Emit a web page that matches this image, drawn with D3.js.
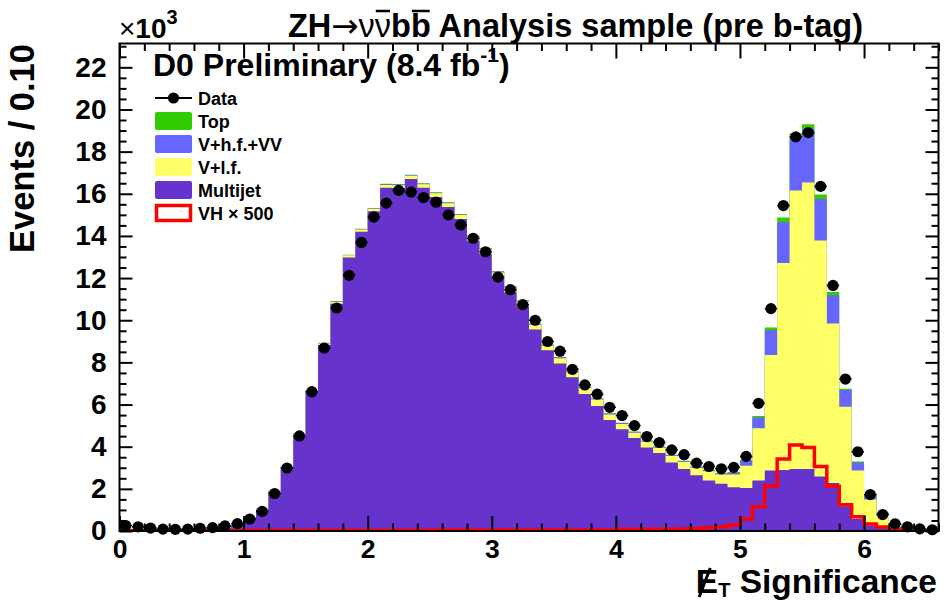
<!DOCTYPE html>
<html><head><meta charset="utf-8">
<script src="https://cdn.jsdelivr.net/npm/d3@7"></script>
<style>
body{margin:0;background:#fff}
svg{display:block}
text{font-family:"Liberation Sans",Arial,Helvetica,sans-serif;font-weight:bold;fill:#000}
</style>
</head><body>
<svg id="c" width="952" height="602"></svg>
<script>
// ---- data (values in units of 10^3 events per 0.10 bin) ----
const binLow = [0.0,0.1,0.2,0.3,0.4,0.5,0.6,0.7,0.8,0.9,1.0,1.1,1.2,1.3,1.4,1.5,1.6,1.7,1.8,1.9,
  2.0,2.1,2.2,2.3,2.4,2.5,2.6,2.7,2.8,2.9,3.0,3.1,3.2,3.3,3.4,3.5,3.6,3.7,3.8,3.9,
  4.0,4.1,4.2,4.3,4.4,4.5,4.6,4.7,4.8,4.9,5.0,5.1,5.2,5.3,5.4,5.5,5.6,5.7,5.8,5.9,
  6.0,6.1,6.2,6.3,6.4,6.5];
const dataVals = [0.26,0.20,0.14,0.09,0.08,0.09,0.13,0.16,0.24,0.35,0.57,0.93,1.78,2.99,4.51,6.61,8.68,10.58,12.13,13.69,
  14.90,15.56,16.16,16.08,15.82,15.60,15.00,14.52,13.89,13.25,12.05,11.45,10.74,10.00,8.99,8.53,7.67,6.93,6.49,5.87,
  5.48,5.00,4.48,4.20,3.85,3.62,3.22,3.06,2.95,3.02,3.54,6.06,10.55,15.44,18.70,18.90,16.35,11.65,7.21,3.76,
  1.73,0.78,0.34,0.20,0.10,0.06];
const multijet = [0.10,0.08,0.06,0.05,0.05,0.06,0.08,0.10,0.15,0.29,0.62,1.01,1.86,3.04,4.57,6.61,8.82,10.78,12.98,14.20,
  15.17,16.29,16.27,16.70,16.29,15.85,15.37,14.80,13.77,13.16,12.05,11.32,10.66,9.56,8.58,7.95,7.29,6.50,5.93,5.27,
  4.83,4.41,3.96,3.70,3.25,2.94,2.64,2.40,2.24,2.08,2.04,2.40,2.87,2.90,2.94,2.94,2.59,2.28,1.17,0.58,
  0.26,0.15,0.08,0.04,0.02,0.01];
const vlf = [0.01,0.01,0.01,0.01,0.01,0.01,0.01,0.01,0.01,0.01,0.02,0.03,0.04,0.05,0.06,0.07,0.08,0.09,0.10,0.11,
  0.12,0.13,0.14,0.15,0.16,0.17,0.18,0.19,0.20,0.21,0.22,0.23,0.23,0.22,0.21,0.25,0.24,0.29,0.31,0.26,
  0.25,0.25,0.27,0.25,0.31,0.33,0.35,0.43,0.44,0.60,1.05,2.48,5.48,9.81,13.21,13.60,11.19,7.56,4.73,2.29,
  1.23,0.63,0.22,0.06,0.03,0.02];
const vhfvv = [0,0,0,0,0,0,0,0,0,0,0.01,0.01,0.01,0.01,0.01,0.01,0.02,0.02,0.02,0.02,
  0.02,0.03,0.03,0.03,0.03,0.03,0.03,0.03,0.03,0.03,0.04,0.04,0.04,0.04,0.04,0.04,0.04,0.04,0.04,0.04,
  0.04,0.04,0.04,0.04,0.04,0.04,0.04,0.04,0.04,0.08,0.23,0.50,1.18,1.94,2.49,2.52,1.97,1.34,0.79,0.38,
  0.24,0.07,0.03,0.02,0.01,0];
const topq = [0,0,0,0,0,0,0,0,0,0,0,0,0,0,0,0,0.01,0.01,0.01,0.01,
  0.01,0.02,0.02,0.02,0.02,0.02,0.02,0.02,0.02,0.02,0.02,0.02,0.02,0.02,0.02,0.02,0.02,0.02,0.02,0.02,
  0.02,0.02,0.02,0.02,0.02,0.02,0.02,0.02,0.02,0.04,0.05,0.08,0.12,0.23,0.23,0.24,0.21,0.16,0.06,0.05,
  0.03,0.02,0.01,0,0,0];
const vhx500 = [0.01,0.01,0.01,0.01,0.01,0.01,0.01,0.01,0.01,0.01,0.03,0.03,0.03,0.03,0.03,0.03,0.03,0.03,0.03,0.03,
  0.03,0.03,0.03,0.03,0.03,0.05,0.05,0.05,0.05,0.05,0.05,0.05,0.05,0.05,0.05,0.05,0.05,0.05,0.05,0.05,
  0.08,0.08,0.08,0.08,0.08,0.10,0.12,0.15,0.20,0.28,0.57,1.15,2.15,3.42,4.08,3.96,3.06,2.12,1.25,0.68,
  0.33,0.19,0.09,0.05,0.02,0.01];
const xMajorTicks = [0,1,2,3,4,5,6];
const yMajorTicks = [0,2,4,6,8,10,12,14,16,18,20,22];
const legendLabels = ["Data","Top","V+h.f.+VV","V+l.f.","Multijet","VH \u00d7 500"];

// ---- layout ----
const L=119.5,R=938.5,T=43.5,B=531;
const binW = 0.1;
const x = d3.scaleLinear().domain([0,6.6]).range([L,R]);
const y = d3.scaleLinear().domain([0,23.13]).range([B,T]);
const svg = d3.select('#c');

svg.append('defs').append('clipPath').attr('id','clip')
  .append('rect').attr('x',L).attr('y',T).attr('width',R-L).attr('height',B-T);
const plot = svg.append('g').attr('clip-path','url(#clip)');

// stacked histogram
const table = binLow.map((b,i)=>({multijet:multijet[i], vlf:vlf[i], vhf:vhfvv[i], top:topq[i]}));
const keys = ['multijet','vlf','vhf','top'];
const colors = {multijet:'#6633cc', vlf:'#ffff66', vhf:'#6666ff', top:'#33cc00'};
const series = d3.stack().keys(keys)(table);
const area = d3.area().curve(d3.curveStepAfter).x(d=>x(d.x)).y0(y(0)).y1(d=>y(d.v));
series.slice().reverse().forEach(s=>{
  const pts = s.map((d,i)=>({x:binLow[i], v:d[1]}));
  pts.push({x:binLow[binLow.length-1]+binW, v:s[s.length-1][1]});
  plot.append('path').attr('d', area(pts)).attr('fill', colors[s.key]);
});

// VH x 500 outline
const line = d3.line().curve(d3.curveStepAfter).x(d=>x(d.x)).y(d=>y(d.v));
const sig = binLow.map((b,i)=>({x:b, v:vhx500[i]}));
sig.push({x:binLow[binLow.length-1]+binW, v:vhx500[vhx500.length-1]});
plot.append('path').attr('d', line(sig)).attr('fill','none').attr('stroke','#ff0000').attr('stroke-width',3.5);

// data points
const dg = svg.append('g');
binLow.forEach((b,i)=>{
  dg.append('line').attr('x1',x(b)).attr('x2',x(b+binW)).attr('y1',y(dataVals[i])).attr('y2',y(dataVals[i]))
    .attr('stroke','#000').attr('stroke-width',1.5);
});
dg.selectAll('circle').data(binLow).join('circle')
  .attr('cx',(b)=>x(b+binW/2)).attr('cy',(b,i)=>y(dataVals[i])).attr('r',5.6).attr('fill','#000');

// axes
const xMinor = d3.range(0,6.61,0.2).filter(v=>Math.abs(v-Math.round(v))>1e-6);
const yMinor = d3.range(0,23.01,0.5).filter(v=>Math.abs(v/2-Math.round(v/2))>1e-6);
function style(g){ g.select('.domain').remove(); g.selectAll('line').attr('stroke','#000').attr('stroke-width',2); }
svg.append('g').attr('transform',`translate(0,${B})`)
  .call(d3.axisBottom(x).tickValues(xMajorTicks).tickSize(-15).tickPadding(8).tickFormat(d3.format('d')))
  .call(style).call(g=>g.selectAll('text').attr('font-size',26.5).attr('font-family','Liberation Sans, Arial, sans-serif').attr('font-weight','bold'));
svg.append('g').attr('transform',`translate(0,${B})`)
  .call(d3.axisBottom(x).tickValues(xMinor).tickSize(-7.5).tickFormat('')).call(style);
svg.append('g').attr('transform',`translate(0,${T})`)
  .call(d3.axisTop(x).tickValues(xMajorTicks).tickSize(-15).tickFormat('')).call(style);
svg.append('g').attr('transform',`translate(0,${T})`)
  .call(d3.axisTop(x).tickValues(xMinor).tickSize(-7.5).tickFormat('')).call(style);
svg.append('g').attr('transform',`translate(${L},0)`)
  .call(d3.axisLeft(y).tickValues(yMajorTicks).tickSize(-13).tickPadding(13).tickFormat(d3.format('d')))
  .call(style).call(g=>g.selectAll('text').attr('font-size',28).attr('font-family','Liberation Sans, Arial, sans-serif').attr('font-weight','bold'));
svg.append('g').attr('transform',`translate(${L},0)`)
  .call(d3.axisLeft(y).tickValues(yMinor).tickSize(-7).tickFormat('')).call(style);
svg.append('g').attr('transform',`translate(${R},0)`)
  .call(d3.axisRight(y).tickValues(yMajorTicks).tickSize(-13).tickFormat('')).call(style);
svg.append('g').attr('transform',`translate(${R},0)`)
  .call(d3.axisRight(y).tickValues(yMinor).tickSize(-7).tickFormat('')).call(style);
svg.append('rect').attr('x',L).attr('y',T).attr('width',R-L).attr('height',B-T)
  .attr('fill','none').attr('stroke','#000').attr('stroke-width',2);

// x10^3
const ex = svg.append('text').attr('x',119).attr('y',38).attr('font-size',28);
ex.append('tspan').attr('font-weight','normal').text('\u00d7');
ex.append('tspan').text('10');
ex.append('tspan').attr('font-size',20).attr('dy',-14).text('3');

// title
const title = svg.append('text').attr('x',288).attr('y',37).attr('font-size',32.5);
title.append('tspan').text('ZH');
title.append('tspan').attr('font-family','DejaVu Sans').attr('font-weight','normal').text('\u2192');
title.append('tspan').attr('font-weight','normal').text('\u03bd\u03bd');
title.append('tspan').text('bb Analysis sample (pre b-tag)');
[4,6].forEach(ci=>{
  const e = title.node().getExtentOfChar(ci);
  svg.append('line').attr('x1',e.x+1).attr('x2',e.x+e.width-1).attr('y1',e.y+3).attr('y2',e.y+3)
    .attr('stroke','#000').attr('stroke-width',2.5);
});

// D0 Preliminary
const d0 = svg.append('text').attr('x',153).attr('y',76).attr('font-size',32);
d0.append('tspan').text('D0 Preliminary (8.4 fb');
d0.append('tspan').attr('font-size',21).attr('dy',-14).text('-1');
d0.append('tspan').attr('dy',14).text(')');

// legend
const legY = [98,121,144,167,190,213];
const legFill = [null,'#33cc00','#6666ff','#ffff66','#6633cc',null];
const lg = svg.append('g');
legendLabels.forEach((lab,i)=>{
  const cy = legY[i];
  if(i===0){
    lg.append('line').attr('x1',155).attr('x2',192).attr('y1',cy).attr('y2',cy).attr('stroke','#000').attr('stroke-width',2);
    lg.append('line').attr('x1',173.5).attr('x2',173.5).attr('y1',cy-5).attr('y2',cy+5).attr('stroke','#000').attr('stroke-width',2);
    lg.append('circle').attr('cx',173.5).attr('cy',cy).attr('r',5.6).attr('fill','#000');
  } else if(i===5){
    lg.append('rect').attr('x',156.5).attr('y',cy-7.5).attr('width',34).attr('height',15).attr('fill','#fff').attr('stroke','#ff0000').attr('stroke-width',3.5);
  } else {
    lg.append('rect').attr('x',155).attr('y',cy-9).attr('width',37).attr('height',18).attr('rx',2).attr('fill',legFill[i]);
  }
  lg.append('text').attr('x',198).attr('y',cy+6.5).attr('font-size',18).text(lab);
});

// axis titles
svg.append('text').attr('transform','translate(34,44) rotate(-90)').attr('text-anchor','end').attr('font-size',34.5).text('Events / 0.10');
const xt = svg.append('text').attr('x',937).attr('y',593).attr('text-anchor','end').attr('font-size',33.5);
xt.append('tspan').text('E');
xt.append('tspan').attr('font-size',20).attr('dy',4).text('T');
xt.append('tspan').attr('dy',-4).text(' Significance');
{
  const e = xt.node().getExtentOfChar(0);
  svg.append('line').attr('x1',e.x+e.width*0.15).attr('y1',e.y+e.height-3)
    .attr('x2',e.x+e.width*0.65).attr('y2',e.y+5).attr('stroke','#000').attr('stroke-width',3);
}
</script>
</body></html>
